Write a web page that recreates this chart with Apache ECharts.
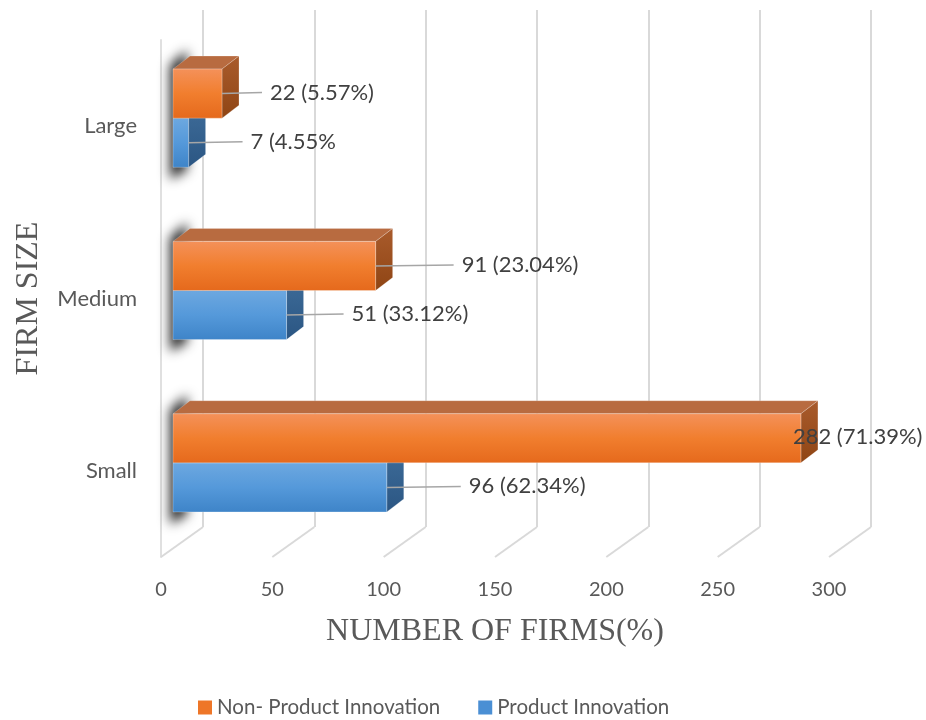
<!DOCTYPE html>
<html>
<head>
<meta charset="utf-8">
<script src="https://cdn.jsdelivr.net/npm/echarts@6/dist/echarts.min.js"></script>
<style>
  html, body { margin: 0; padding: 0; background: #fff; }
  #chart { width: 926px; height: 720px; }
</style>
</head>
<body>
<div id="chart"></div>
<script>
// Firm size categories (bottom to top on the category axis)
const categories = ['Small', 'Medium', 'Large'];
// Number of firms per group
const nonProductValues = [282, 91, 22];
const productValues = [96, 51, 7];
// Share text shown after each count
const nonProductShares = ['(71.39%)', '(23.04%)', '(5.57%)'];
const productShares = ['(62.34%)', '(33.12%)', '(4.55%'];
// Value-axis ticks
const xTicks = [0, 50, 100, 150, 200, 250, 300];

const seriesNames = ['Non- Product Innovation', 'Product Innovation'];

// 3D look: offset of the back wall, of the bar fronts and the bar depth
const WALL = { dx: 42, dy: -30 };
const BAR_OFF = { dx: 12, dy: -8 };
const BAR_DEPTH = { dx: 17, dy: -13 };
const BAR_FRACTION = 0.285;
// leader length from a bar end to its label (per category); 0 = label sits on the bar end
const leaderNonProduct = [0, 78, 40];
const leaderProduct = [74, 57, 54];

const SANS = 'Lato, "Noto Sans", sans-serif';
const SERIF = '"Liberation Serif", "Times New Roman", serif';
const LABEL_FONT = '22px ' + SANS;
const TEXT_COLOR = '#404040';
const AXIS_TEXT = '#595959';

const palette = {
  orange: {
    front: new echarts.graphic.LinearGradient(0, 0, 0, 1, [
      { offset: 0, color: '#F4915A' }, { offset: 0.5, color: '#F17E2E' }, { offset: 1, color: '#E5691C' }]),
    top: '#B86B40',
    side: new echarts.graphic.LinearGradient(0, 0, 0, 1, [
      { offset: 0, color: '#A95B2C' }, { offset: 1, color: '#8F4514' }]),
    legend: '#EE7628'
  },
  blue: {
    front: new echarts.graphic.LinearGradient(0, 0, 0, 1, [
      { offset: 0, color: '#6DA8E0' }, { offset: 0.5, color: '#5599DA' }, { offset: 1, color: '#3E84C8' }]),
    top: '#3F73A6',
    side: new echarts.graphic.LinearGradient(0, 0, 0, 1, [
      { offset: 0, color: '#3E6C99' }, { offset: 1, color: '#2B5683' }]),
    legend: '#4A8FD4'
  }
};

const SHADOW_SHIFT = 3000;

function barRenderer(isUpper, colors, shares, leaders, withShadow) {
  return function (params, api) {
    const cat = api.value(0);
    const val = api.value(1);
    const start = api.coord([0, cat]);
    const end = api.coord([val, cat]);
    const band = api.size([0, 1])[1];
    const h = band * BAR_FRACTION;
    const cy = start[1] + BAR_OFF.dy;
    const x0 = start[0] + BAR_OFF.dx;
    const x1 = end[0] + BAR_OFF.dx;
    const yTop = isUpper ? cy - h : cy;
    const yBot = isUpper ? cy : cy + h;
    const dx = BAR_DEPTH.dx, dy = BAR_DEPTH.dy;
    const children = [];

    if (withShadow) {
      // soft shadow cast by the bar pair onto the side wall; the shape itself
      // sits far off to the left so only its blurred shadow shows
      const s = SHADOW_SHIFT;
      children.push({
        type: 'polygon',
        shape: { points: [
          [x0 - 3 - s, cy - h - 4], [x0 + dx - 3 - s, cy - h + dy - 6],
          [x0 + dx - 3 - s, cy + h + dy + 16], [x0 - 3 - s, cy + h + 12]] },
        style: { fill: '#000', shadowBlur: 12, shadowColor: 'rgba(0,0,0,0.85)', shadowOffsetX: s }
      });
    }

    children.push({
      type: 'polygon',
      shape: { points: [[x0, yTop], [x0 + dx, yTop + dy], [x1 + dx, yTop + dy], [x1, yTop]] },
      style: { fill: colors.top, stroke: 'rgba(255,255,255,0.35)', lineWidth: 0.6 }
    });
    children.push({
      type: 'polygon',
      shape: { points: [[x1, yTop], [x1 + dx, yTop + dy], [x1 + dx, yBot + dy], [x1, yBot]] },
      style: { fill: colors.side, stroke: 'rgba(255,255,255,0.35)', lineWidth: 0.6 }
    });
    children.push({
      type: 'rect',
      shape: { x: x0, y: yTop, width: x1 - x0, height: yBot - yTop },
      style: { fill: colors.front, stroke: 'rgba(255,255,255,0.45)', lineWidth: 0.6 }
    });

    const midY = (yTop + yBot) / 2;
    const lead = leaders[params.dataIndex];
    const text = val + ' ' + shares[params.dataIndex];
    if (lead > 0) {
      children.push({
        type: 'line',
        shape: { x1: x1, y1: midY, x2: x1 + lead, y2: midY - 1 },
        style: { stroke: '#A6A6A6', lineWidth: 1.5 }
      });
    }
    children.push({
      type: 'text',
      style: { text: text, x: x1 + (lead > 0 ? lead + 8 : -8), y: midY - 1, font: LABEL_FONT,
               fill: TEXT_COLOR, align: 'left', verticalAlign: 'middle' }
    });
    return { type: 'group', children: children };
  };
}

const chart = echarts.init(document.getElementById('chart'), null, { renderer: 'canvas' });

const option = {
  animation: false,
  backgroundColor: '#ffffff',
  legend: {
    data: seriesNames,
    top: 692,
    left: 193,
    icon: 'rect',
    itemWidth: 14,
    itemHeight: 14,
    itemGap: 38,
    textStyle: { fontFamily: SANS, fontSize: 20.5, color: AXIS_TEXT }
  },
  grid: [
    // front plane: axes, labels, bars
    { left: 161, right: 97, top: 40, bottom: 163 },
    // back wall: gridlines
    { left: 161 + WALL.dx, right: 97 - WALL.dx, top: 40 + WALL.dy, bottom: 163 - WALL.dy }
  ],
  xAxis: [
    {
      gridIndex: 0, type: 'value', min: xTicks[0], max: xTicks[xTicks.length - 1], interval: 50,
      axisLine: { show: false }, axisTick: { show: false }, splitLine: { show: false },
      axisLabel: { margin: 23, fontFamily: SANS, fontSize: 20, color: AXIS_TEXT },
      name: 'NUMBER OF FIRMS(%)', nameLocation: 'middle', nameGap: 59,
      nameTextStyle: { fontFamily: SERIF, fontSize: 32, color: AXIS_TEXT }
    },
    {
      gridIndex: 1, type: 'value', min: xTicks[0], max: xTicks[xTicks.length - 1], interval: 50,
      axisLine: { show: false }, axisTick: { show: false }, axisLabel: { show: false },
      splitLine: { show: true, lineStyle: { color: '#D9D9D9', width: 2 } }
    }
  ],
  yAxis: [
    {
      gridIndex: 0, type: 'category', data: categories,
      axisLine: { show: true, lineStyle: { color: '#E0E0E0', width: 2 } },
      axisTick: { show: false },
      axisLabel: { margin: 24, fontFamily: SANS, fontSize: 22, color: AXIS_TEXT },
      name: 'FIRM SIZE', nameLocation: 'middle', nameGap: 116, nameRotate: 90,
      nameTextStyle: { fontFamily: SERIF, fontSize: 32, color: AXIS_TEXT }
    },
    {
      gridIndex: 1, type: 'category', data: categories,
      axisLine: { show: false }, axisTick: { show: false }, axisLabel: { show: false }
    }
  ],
  series: [
    {
      // floor lines joining the front ticks to the back wall
      type: 'custom', name: 'floor', xAxisIndex: 0, yAxisIndex: 0, silent: true, z: 1,
      data: xTicks.map(v => [v]),
      renderItem: function (params, api) {
        const p = api.coord([api.value(0), 0]);
        const yb = params.coordSys.y + params.coordSys.height;
        return {
          type: 'line',
          shape: { x1: p[0], y1: yb, x2: p[0] + WALL.dx, y2: yb + WALL.dy },
          style: { stroke: '#D9D9D9', lineWidth: 2 }
        };
      }
    },
    {
      type: 'custom', name: seriesNames[1], xAxisIndex: 0, yAxisIndex: 0, z: 2,
      itemStyle: { color: palette.blue.legend },
      data: productValues.map((v, i) => [i, v]),
      renderItem: barRenderer(false, palette.blue, productShares, leaderProduct, true)
    },
    {
      type: 'custom', name: seriesNames[0], xAxisIndex: 0, yAxisIndex: 0, z: 3,
      itemStyle: { color: palette.orange.legend },
      data: nonProductValues.map((v, i) => [i, v]),
      renderItem: barRenderer(true, palette.orange, nonProductShares, leaderNonProduct, false)
    }
  ]
};

chart.setOption(option);
</script>
</body>
</html>
